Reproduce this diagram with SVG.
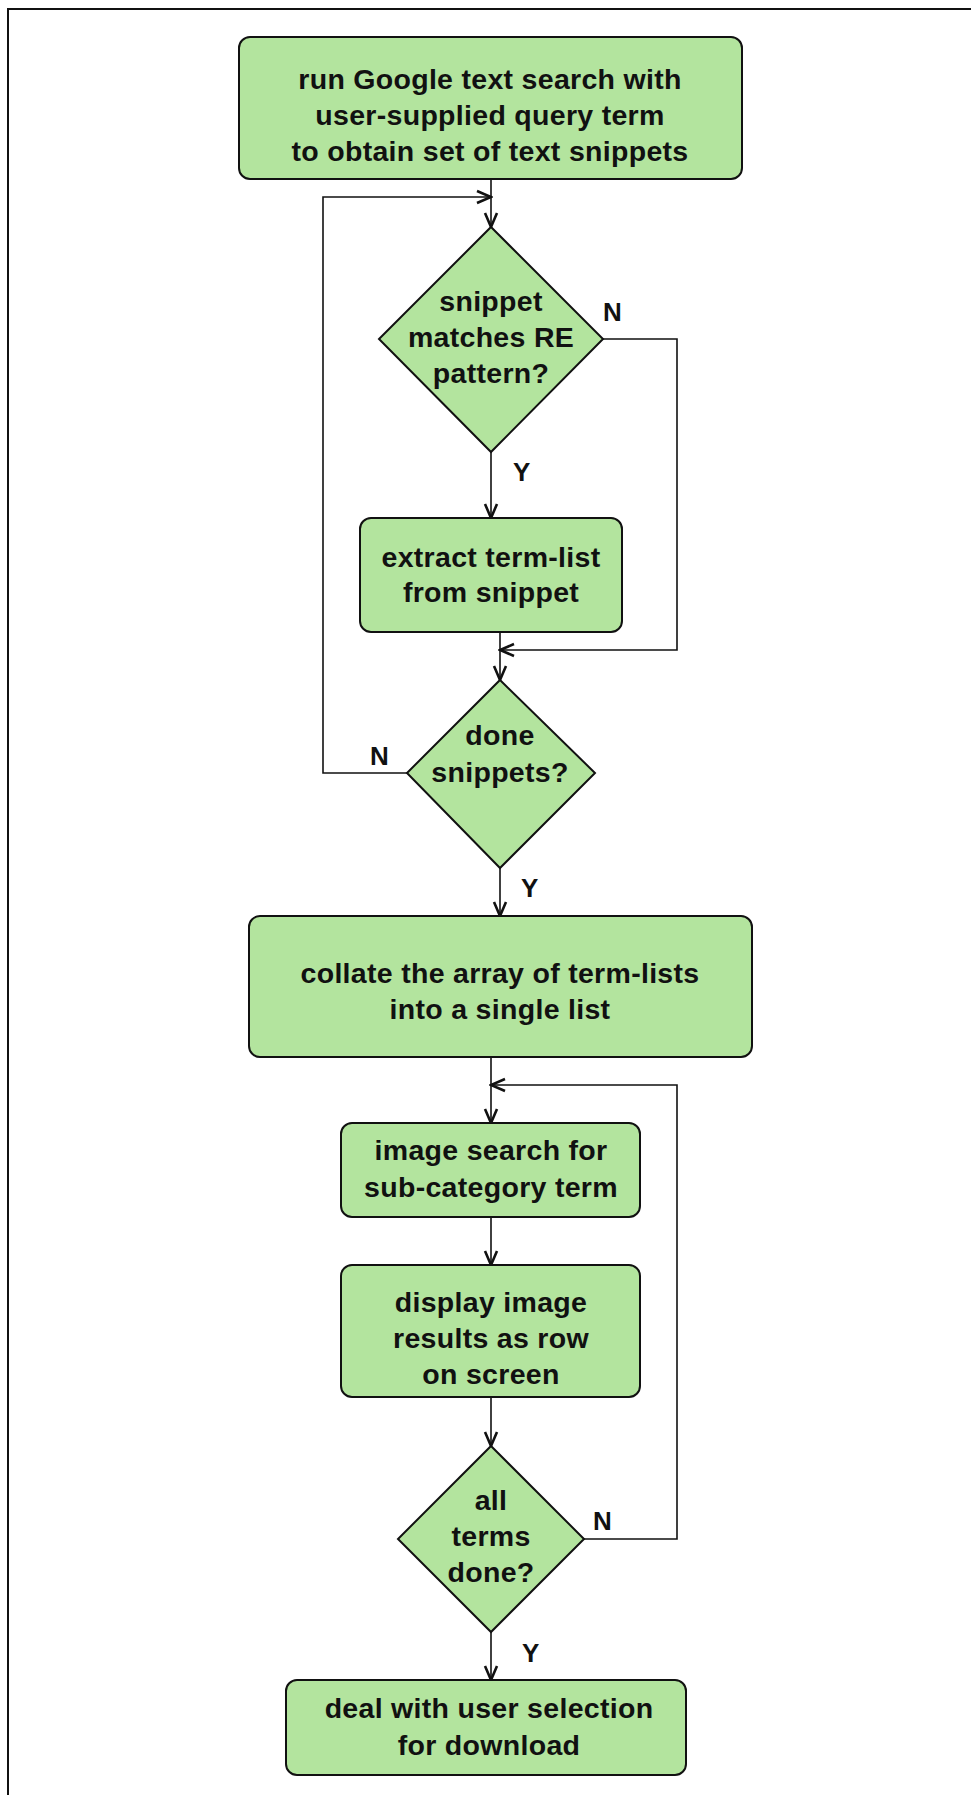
<svg xmlns="http://www.w3.org/2000/svg" width="971" height="1795" viewBox="0 0 971 1795">
<defs>
<style>
.node{fill:#b3e49e;stroke:#111;stroke-width:2}
.t{font-family:"Liberation Sans",Arial,sans-serif;font-weight:bold;font-size:28.5px;letter-spacing:0.3px;fill:#111;text-anchor:middle}
.lbl{font-family:"Liberation Sans",Arial,sans-serif;font-weight:bold;font-size:26px;fill:#111}
.c{fill:none;stroke:#111;stroke-width:1.6}
</style>
<marker id="arr" markerUnits="userSpaceOnUse" viewBox="-16 -8 18 16" refX="0" refY="0" markerWidth="18" markerHeight="16" orient="auto">
<path d="M-14,-6 L0,0 L-14,6" fill="none" stroke="#111" stroke-width="2.6"/>
</marker>
</defs>
<rect width="971" height="1795" fill="#fff"/>
<path d="M8,1795 V9 H971" fill="none" stroke="#111" stroke-width="2"/>

<g id="connectors">
<path class="c" d="M491,179 V227" marker-end="url(#arr)"/>
<path class="c" d="M407,773 H323 V197 H491" marker-end="url(#arr)"/>
<path class="c" d="M603,339 H677 V650 H500" marker-end="url(#arr)"/>
<path class="c" d="M491,452 V518" marker-end="url(#arr)"/>
<path class="c" d="M500,632 V680" marker-end="url(#arr)"/>
<path class="c" d="M500,868 V916" marker-end="url(#arr)"/>
<path class="c" d="M491,1057 V1123" marker-end="url(#arr)"/>
<path class="c" d="M491,1217 V1265" marker-end="url(#arr)"/>
<path class="c" d="M491,1397 V1446" marker-end="url(#arr)"/>
<path class="c" d="M584,1539 H677 V1085 H491" marker-end="url(#arr)"/>
<path class="c" d="M491,1632 V1680" marker-end="url(#arr)"/>
<text class="lbl" x="603" y="321">N</text>
<text class="lbl" x="513" y="481">Y</text>
<text class="lbl" x="370" y="765">N</text>
<text class="lbl" x="521" y="897">Y</text>
<text class="lbl" x="593" y="1530">N</text>
<text class="lbl" x="522" y="1662">Y</text>
</g>

<g id="n1">
<rect class="node" x="239" y="37" width="503" height="142" rx="11"/>
<text class="t" x="490" y="89">run Google text search with</text>
<text class="t" x="490" y="125">user-supplied query term</text>
<text class="t" x="490" y="161">to obtain set of text snippets</text>
</g>

<g id="d1">
<polygon class="node" points="491,227 603,339 491,452 379,339"/>
<text class="t" x="491" y="311">snippet</text>
<text class="t" x="491" y="347">matches RE</text>
<text class="t" x="491" y="383">pattern?</text>
</g>

<g id="n2">
<rect class="node" x="360" y="518" width="262" height="114" rx="11"/>
<text class="t" x="491" y="567">extract term-list</text>
<text class="t" x="491" y="602">from snippet</text>
</g>

<g id="d2">
<polygon class="node" points="500,680 595,773 500,868 407,773"/>
<text class="t" x="500" y="745">done</text>
<text class="t" x="500" y="782">snippets?</text>
</g>

<g id="n3">
<rect class="node" x="249" y="916" width="503" height="141" rx="11"/>
<text class="t" x="500" y="983">collate the array of term-lists</text>
<text class="t" x="500" y="1019">into a single list</text>
</g>

<g id="n4">
<rect class="node" x="341" y="1123" width="299" height="94" rx="11"/>
<text class="t" x="491" y="1160">image search for</text>
<text class="t" x="491" y="1197">sub-category term</text>
</g>

<g id="n5">
<rect class="node" x="341" y="1265" width="299" height="132" rx="11"/>
<text class="t" x="491" y="1312">display image</text>
<text class="t" x="491" y="1348">results as row</text>
<text class="t" x="491" y="1384">on screen</text>
</g>

<g id="d3">
<polygon class="node" points="491,1446 584,1539 491,1632 398,1539"/>
<text class="t" x="491" y="1510">all</text>
<text class="t" x="491" y="1546">terms</text>
<text class="t" x="491" y="1582">done?</text>
</g>

<g id="n6">
<rect class="node" x="286" y="1680" width="400" height="95" rx="11"/>
<text class="t" x="489" y="1718">deal with user selection</text>
<text class="t" x="489" y="1755">for download</text>
</g>
</svg>
